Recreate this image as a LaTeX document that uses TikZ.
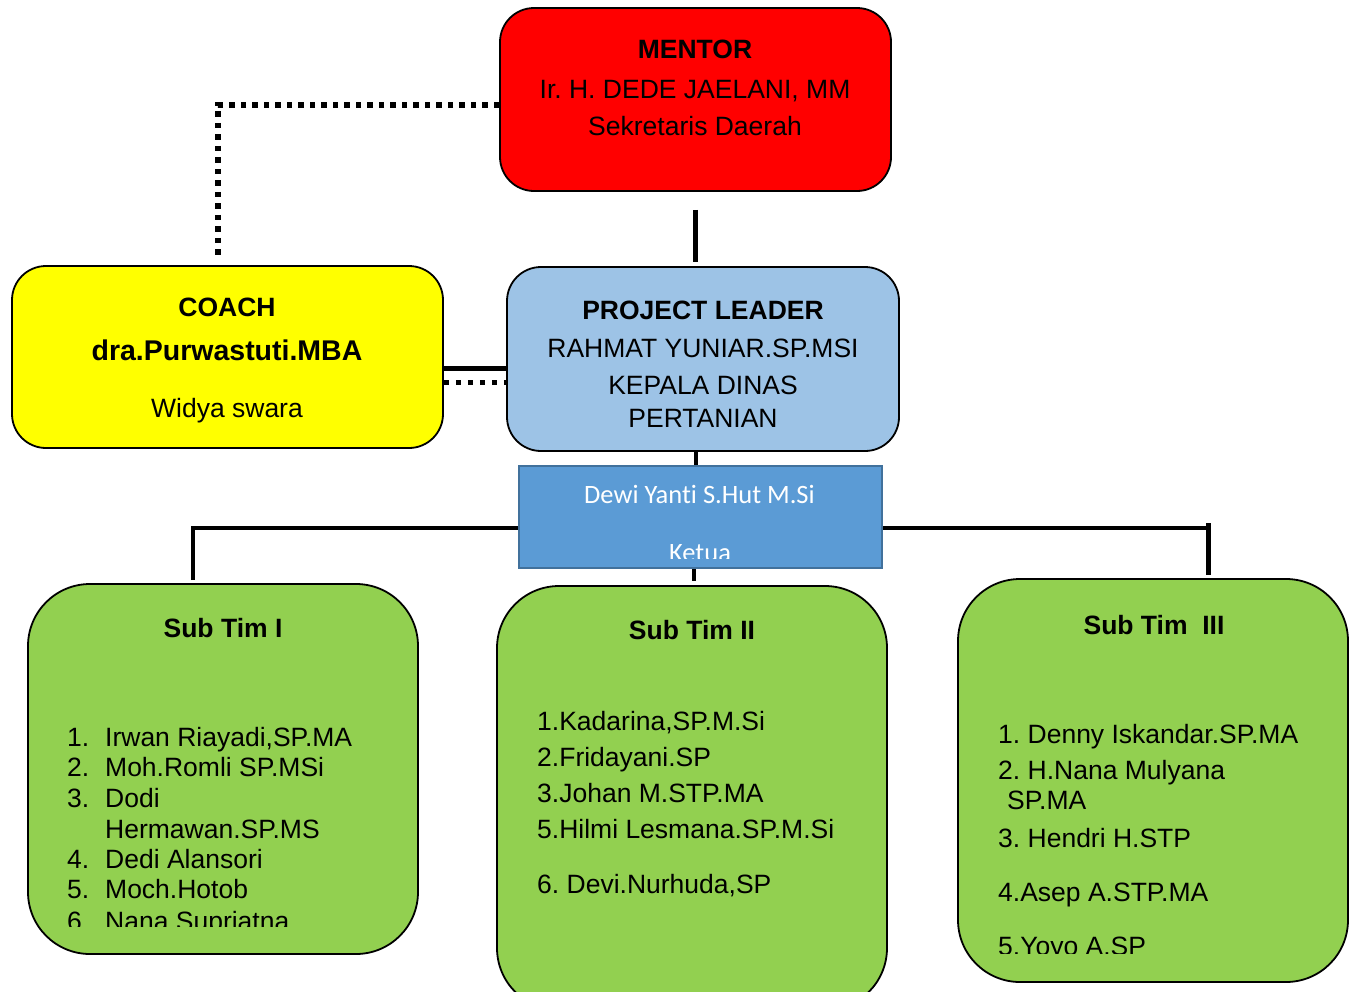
\documentclass[tikz,border=0pt]{standalone}
\usepackage{fontspec}
\setmainfont{Liberation Sans}
\newfontfamily\calibri[RawFeature={-liga;-clig;-calt}]{Carlito}
\frenchspacing
\definecolor{mentorred}{RGB}{255,0,0}
\definecolor{coachyellow}{RGB}{255,255,0}
\definecolor{leaderblue}{RGB}{157,195,230}
\definecolor{ketuablue}{RGB}{91,155,213}
\definecolor{ketuaedge}{RGB}{65,113,156}
\definecolor{timgreen}{RGB}{146,208,80}
\usetikzlibrary{calc, positioning}

\begin{document}
\begin{tikzpicture}[x=1pt, y=-1pt,
    box/.style={draw=black, line width=1.8pt, rounded corners=34pt, inner sep=0pt},
    subtim/.style={box, fill=timgreen, rounded corners=62pt, minimum width=390pt},
    txt/.style={inner sep=0pt, anchor=base, font=\fontsize{26.5}{32}\selectfont},
    head/.style={txt, font=\fontsize{26.5}{32}\selectfont\bfseries},
    item/.style={txt, anchor=base west},
    link/.style={line width=5pt},
    dots/.style={line width=5.5pt, dash pattern=on 5.5pt off 6pt},
  ]
    \useasboundingbox (0,0) rectangle (1351,991);

    \node[box, fill=mentorred, minimum width=391pt, minimum height=183pt] (mentor) at (695.5,99.5) {};
    \node[head] (mentorT) at (695,58) {MENTOR};
    \node[txt] (mentorN) at (695,98) {Ir. H. DEDE JAELANI, MM};
    \node[txt] (mentorJ) at (695,135) {Sekretaris Daerah};

    \node[box, fill=coachyellow, minimum width=431pt, minimum height=182pt] (coach) at (227.5,357) {};
    \node[head] (coachT) at (227,316) {COACH};
    \node[txt, font=\fontsize{28.5}{32}\selectfont\bfseries] (coachN) at (227,360) {dra.Purwastuti.MBA};
    \node[txt] (coachJ) at (227,417) {Widya swara};

    \node[box, fill=leaderblue, minimum width=392pt, minimum height=184pt] (leader) at (703,359) {};
    \node[head] (leaderT) at (703,319) {PROJECT LEADER};
    \node[txt] (leaderN) at (703,357) {RAHMAT YUNIAR.SP.MSI};
    \node[txt] (leaderJ1) at (703,394) {KEPALA DINAS};
    \node[txt] (leaderJ2) at (703,427) {PERTANIAN};

    \node[subtim, minimum height=370pt] (subI) at (223,769) {};
    \node[subtim, minimum height=424pt] (subII) at (692,798) {};
    \node[subtim, minimum height=403pt] (subIII) at (1153,780.5) {};

    \draw[link, shorten <=18pt, shorten >=4pt] (mentor.south) -- (mentor.south |- leader.north);
    \draw[dots, shorten >=7pt] ([yshift=-5.5pt]mentor.west) -| ([xshift=-9.5pt]coach.north);
    \draw[link] ([yshift=-11pt]coach.east) -- ([yshift=-11pt]coach.east -| leader.west);
    \draw[dots, line width=5pt, dash pattern=on 5pt off 7pt] ([yshift=-25pt]coach.east) -- ([yshift=-25pt]coach.east -| leader.west);

    \coordinate (bus) at (700,528);
    \coordinate (tip) at (1208.5,523);
    \draw[link, line width=4.5pt] ([xshift=-30pt, yshift=3pt]subI.north) |- (bus) -- (bus -| tip);
    \draw[link, line width=5.5pt] (tip) -- ([xshift=55.5pt, yshift=3pt]subIII.north);

    \node[draw=ketuaedge, line width=2pt, fill=ketuablue, minimum width=363pt, minimum height=102pt, inner sep=0pt] (ketua) at (700.5,517) {};
    \node[txt, text=white, font=\fontsize{26.5}{32}\calibri] (ketuaN) at (699.5,503) {Dewi Yanti S.Hut M.Si};
    \begin{scope}
      \clip (519,466) rectangle (882,558);
      \node[txt, text=white, font=\fontsize{26.5}{32}\calibri] (ketuaJ) at (700,561) {Ketua};
    \end{scope}
    \draw[link, line width=4pt] ([xshift=-7pt]leader.south) -- ([xshift=-7pt]leader.south |- ketua.north);
    \draw[link, line width=4.5pt, shorten >=4pt] ([xshift=-6.5pt]ketua.south) -- ([xshift=-6.5pt]ketua.south |- subII.north);

    \node[head] (subIT) at (223,637) {Sub Tim I};
    \node[item] (a1) at (67,746) {\makebox[38pt][l]{1.}Irwan Riayadi,SP.MA};
    \node[item] (a2) at (67,776) {\makebox[38pt][l]{2.}Moh.Romli SP.MSi};
    \node[item] (a3) at (67,807) {\makebox[38pt][l]{3.}Dodi};
    \node[item] (a3b) at (105,838) {Hermawan.SP.MS};
    \node[item] (a4) at (67,868) {\makebox[38pt][l]{4.}Dedi Alansori};
    \node[item] (a5) at (67,898) {\makebox[38pt][l]{5.}Moch.Hotob};
    \begin{scope}
      \clip (30,900) rectangle (418,926.5);
      \node[item] (a6) at (67,930) {\makebox[38pt][l]{6.}Nana Supriatna};
    \end{scope}

    \node[head] (subIIT) at (692,639) {Sub Tim II};
    \node[item] (b1) at (537,730) {1.Kadarina,SP.M.Si};
    \node[item] (b2) at (537,766) {2.Fridayani.SP};
    \node[item] (b3) at (537,802) {3.Johan M.STP.MA};
    \node[item] (b5) at (537,838) {5.Hilmi Lesmana.SP.M.Si};
    \node[item] (b6) at (537,893) {6. Devi.Nurhuda,SP};

    \node[head] (subIIIT) at (1154,634) {Sub Tim\ \ III};
    \node[item] (c1) at (998,743) {1. Denny Iskandar.SP.MA};
    \node[item] (c2) at (998,779) {2. H.Nana Mulyana};
    \node[item] (c2b) at (1007,809) {SP.MA};
    \node[item] (c3) at (998,847) {3. Hendri H.STP};
    \node[item] (c4) at (998,901) {4.Asep A.STP.MA};
    \begin{scope}
      \clip (960,920) rectangle (1346,953);
      \node[item] (c5) at (998,955) {5.Yoyo A.SP};
    \end{scope}
  \end{tikzpicture}
\end{document}
